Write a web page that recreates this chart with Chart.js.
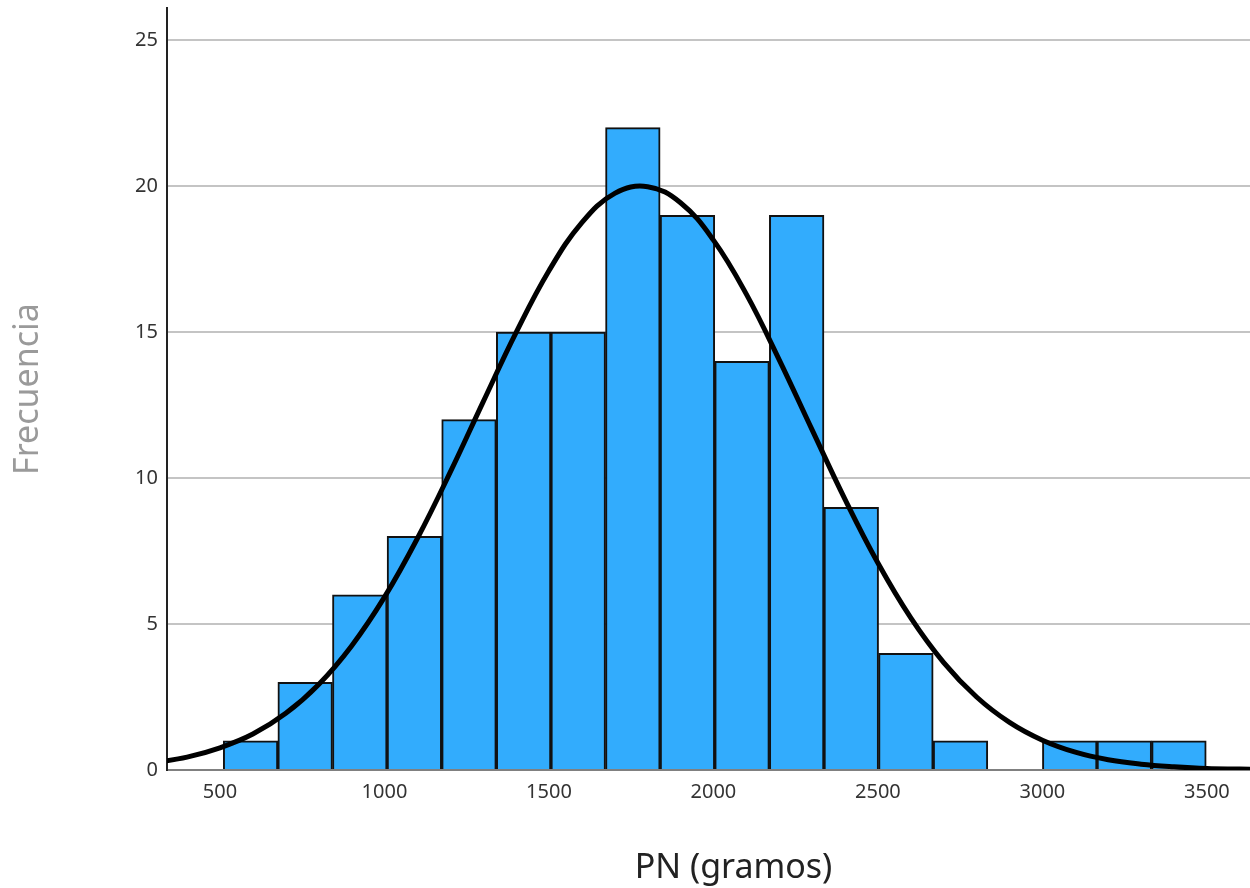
<!DOCTYPE html>
<html>
<head>
<meta charset="utf-8">
<title>PN (gramos)</title>
<script src="https://cdn.jsdelivr.net/npm/chart.js@4/dist/chart.umd.min.js"></script>
<style>
    html, body { margin: 0; padding: 0; background: #fff; }
    #wrap { width: 1250px; height: 888px; }
</style>
</head>
<body>
<div id="wrap"><canvas id="hist" width="1250" height="888"></canvas></div>
<script>
// histogram bins (centre of each bin, grams) and their counts
const binCenters = [593, 759, 925, 1091, 1257, 1423, 1589, 1755, 1921, 2087, 2253, 2419, 2585, 2751, 2917, 3083, 3249, 3415];
const frequencies = [1, 3, 6, 8, 12, 15, 15, 22, 19, 14, 19, 9, 4, 1, 0, 1, 1, 1];

// normal curve, read at every 100 g
const curveX = [300, 400, 500, 600, 700, 800, 900, 1000, 1100, 1200, 1300, 1400, 1500, 1600, 1700, 1800,
    1900, 2000, 2100, 2200, 2300, 2400, 2500, 2600, 2700, 2800, 2900, 3000, 3100, 3200, 3300, 3400, 3500, 3600, 3700];
const curveY = [0.25, 0.44, 0.76, 1.23, 1.94, 2.93, 4.25, 5.92, 7.93, 10.20, 12.61, 14.98, 17.10, 18.75, 19.75, 19.98,
    19.43, 18.15, 16.30, 14.05, 11.65, 9.27, 7.09, 5.21, 3.68, 2.50, 1.63, 1.02, 0.61, 0.35, 0.20, 0.11, 0.05, 0.03, 0.01];

const xTicks = [500, 1000, 1500, 2000, 2500, 3000, 3500];
const yTicks = [0, 5, 10, 15, 20, 25];
const xTitle = 'PN (gramos)';

const tickFont = { family: "'Noto Sans', sans-serif", size: 20 };
const titleFont = { family: "'Noto Sans', sans-serif", size: 34 };

const barData = binCenters.map((x, i) => ({ x: x, y: frequencies[i] }));
const curveData = curveX.map((x, i) => ({ x: x, y: curveY[i] }));

// x-axis title sits a little right of the plot centre
const xTitlePlugin = {
    id: 'xTitle',
    afterDraw(chart) {
        const ctx = chart.ctx;
        ctx.save();
        ctx.font = `${titleFont.size}px ${titleFont.family}`;
        ctx.fillStyle = '#222';
        ctx.textAlign = 'center';
        ctx.textBaseline = 'middle';
        ctx.fillText(xTitle, chart.chartArea.left + (chart.chartArea.right - chart.chartArea.left) / 2 + 25, chart.height - 20);
        ctx.restore();
    }
};

new Chart(document.querySelector('#hist'), {
    type: 'bar',
    data: {
        datasets: [{
            type: 'line',
            data: curveData,
            borderColor: '#000',
            borderWidth: 5,
            pointRadius: 0,
            tension: 0.4,
            fill: false,
            order: 0
        }, {
            type: 'bar',
            data: barData,
            backgroundColor: 'rgb(50, 172, 253)',
            borderColor: '#111',
            borderWidth: 2,
            barPercentage: 1,
            categoryPercentage: 1,
            order: 1
        }]
    },
    options: {
        responsive: false,
        animation: false,
        layout: { padding: { top: 8, right: 0, left: 0, bottom: 0 } },
        plugins: {
            legend: { display: false },
            tooltip: { enabled: false }
        },
        scales: {
            x: {
                type: 'linear',
                offset: false,
                min: 339,
                max: 3631,
                afterBuildTicks: (scale) => { scale.ticks = xTicks.map(v => ({ value: v })); },
                afterFit: (scale) => { scale.height = 118; },
                grid: { display: false, drawTicks: false, offset: false },
                border: { display: true, color: '#808080', width: 2 },
                ticks: { font: tickFont, color: '#333', padding: 10, maxRotation: 0, callback: (v) => String(v) },
                title: { display: false }
            },
            y: {
                min: 0,
                max: 26.1,
                afterBuildTicks: (scale) => { scale.ticks = yTicks.map(v => ({ value: v })); },
                afterFit: (scale) => {
                    scale.width = 167;
                    scale.paddingTop = 0;
                    scale.paddingBottom = 0;
                },
                grid: { color: '#c4c4c4', lineWidth: 2, drawTicks: false },
                border: { display: true, color: '#222', width: 2 },
                ticks: { font: tickFont, color: '#333', padding: 9 },
                title: {
                    display: true,
                    text: 'Frecuencia',
                    font: titleFont,
                    color: '#9a9a9a',
                    padding: { top: 8, bottom: 0 }
                }
            }
        }
    },
    plugins: [xTitlePlugin]
});
</script>
</body>
</html>
